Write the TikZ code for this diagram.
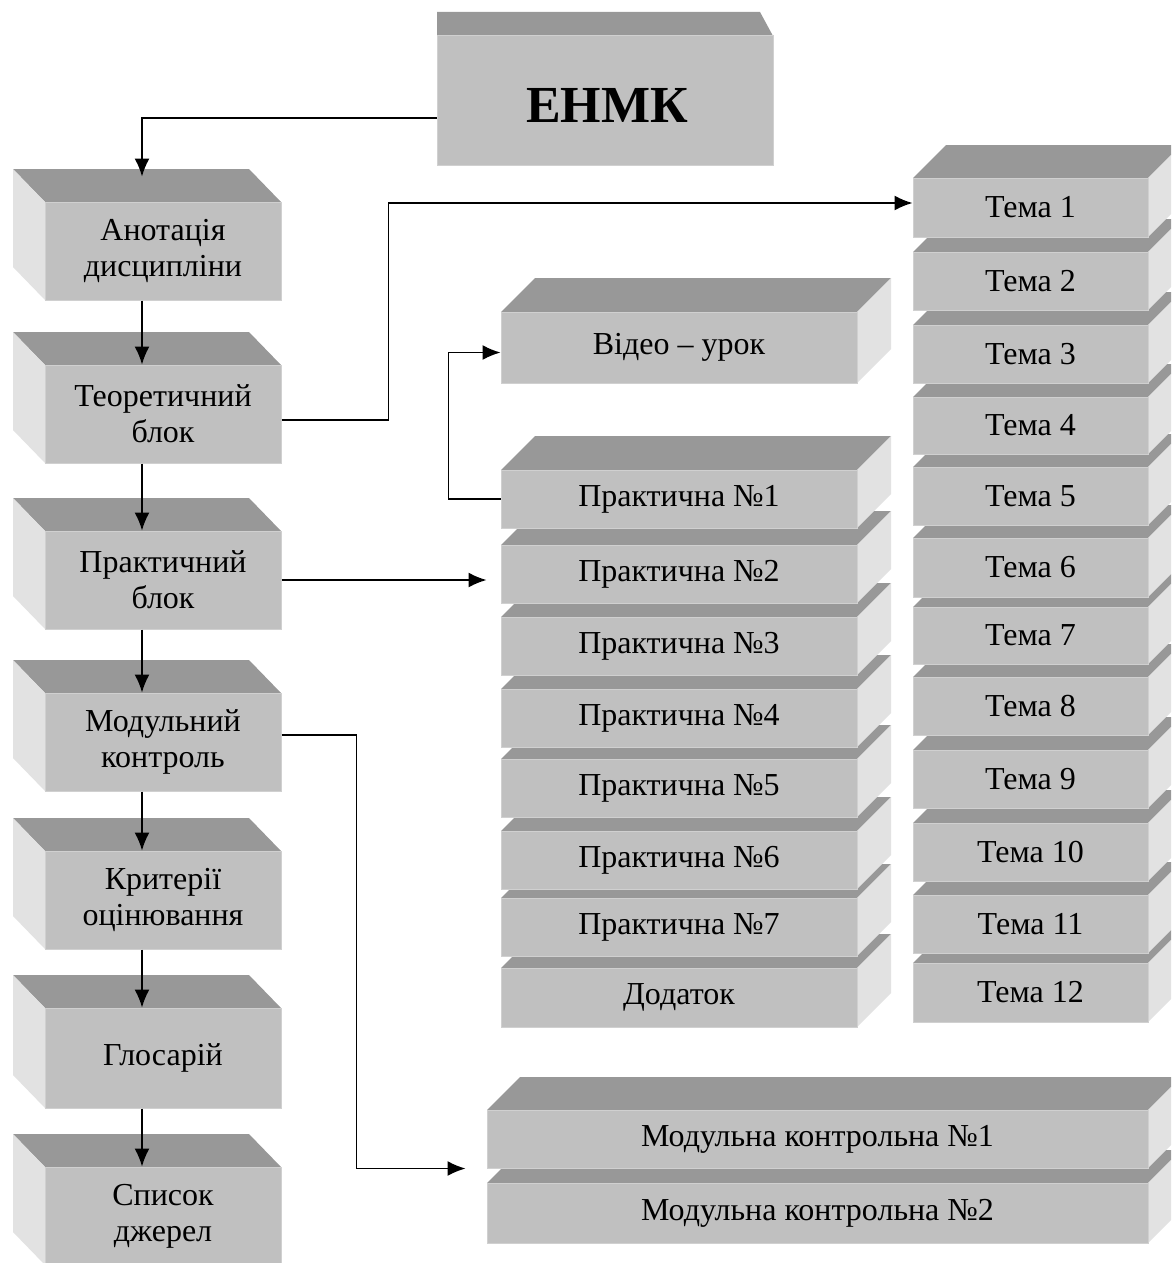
\documentclass[tikz,border=0pt]{standalone}
\usepackage{fontspec}
\setmainfont{Liberation Serif}
\usetikzlibrary{arrows.meta}
\definecolor{facefront}{RGB}{192,192,192}
\definecolor{facetop}{RGB}{152,152,152}
\definecolor{faceside}{RGB}{226,226,226}
\definecolor{faceedge}{RGB}{208,208,208}
\tikzset{
  frontface/.style={fill=facefront, draw=faceedge, line width=1pt, inner sep=0pt,
    align=center, text=black, font=\fontsize{32}{36}\selectfont},
  conn/.style={line width=1.6pt, -{Latex[length=18pt,width=15pt]}},
}
% box with depth to the upper left: name, x0, y0, x1, y1, text
\newcommand\boxLeft[6]{%
  \fill[facetop] (#2,#3) -- (#2-32,#3-33) -- (#4-32,#3-33) -- (#4,#3) -- cycle;
  \fill[faceside] (#2,#3) -- (#2-32,#3-33) -- (#2-32,#5-33) -- (#2,#5) -- cycle;
  \node[frontface, minimum width={#4-#2}, minimum height={#5-#3}] (#1)
    at ({(#2+#4)/2},{(#3+#5)/2}) {#6};
}
% box with depth to the upper right: name, x0, y0, x1, y1, depth, text
\newcommand\boxRight[7]{%
  \fill[facetop] (#2,#3) -- (#2+#6,#3-#6) -- (#4+#6,#3-#6) -- (#4,#3) -- cycle;
  \fill[faceside] (#4,#3) -- (#4+#6,#3-#6) -- (#4+#6,#5-#6) -- (#4,#5) -- cycle;
  \node[frontface, minimum width={#4-#2}, minimum height={#5-#3}] (#1)
    at ({(#2+#4)/2},{(#3+#5)/2}) {#7};
}
\begin{document}
\begin{tikzpicture}[x=1pt,y=-1pt]
\clip (0,0) rectangle (1171,1263);
\fill[white] (0,0) rectangle (1171,1263);

% ENMK
\fill[facetop] (437,36) -- (437,12) -- (760,12) -- (773,36) -- cycle;
\node[frontface, minimum width=336, minimum height=129] (enmk) at (605,100.5) {};
\node[font=\fontsize{52}{60}\selectfont\bfseries, inner sep=0pt] (enmktext) at (607,105) {ЕНМК};

% left column
\boxLeft{a1}{45}{202}{281}{300}{Анотація\\дисципліни}
\boxLeft{a2}{45}{365}{281}{463}{Теоретичний\\блок}
\boxLeft{a3}{45}{531}{281}{629}{Практичний\\блок}
\boxLeft{a4}{45}{693}{281}{791}{Модульний\\контроль}
\boxLeft{a5}{45}{851}{281}{949}{Критерії\\оцінювання}
\boxLeft{a6}{45}{1008}{281}{1108}{Глосарій}
\boxLeft{a7}{45}{1167}{281}{1265}{Список\\джерел}

% video
\boxRight{video}{501}{312}{857}{383}{34}{Відео – урок}

% practical stack (bottom first)
\boxRight{p8}{501}{968}{857}{1027}{34}{Додаток}
\boxRight{p7}{501}{898}{857}{956}{34}{Практична №7}
\boxRight{p6}{501}{831}{857}{889}{34}{Практична №6}
\boxRight{p5}{501}{759}{857}{817}{34}{Практична №5}
\boxRight{p4}{501}{689}{857}{747}{34}{Практична №4}
\boxRight{p3}{501}{617}{857}{675}{34}{Практична №3}
\boxRight{p2}{501}{545}{857}{603}{34}{Практична №2}
\boxRight{p1}{501}{470}{857}{528}{34}{Практична №1}

% topics stack (bottom first)
\boxRight{t12}{913}{963}{1148}{1022}{33}{Тема 12}
\boxRight{t11}{913}{895}{1148}{953}{33}{Тема 11}
\boxRight{t10}{913}{823}{1148}{881}{33}{Тема 10}
\boxRight{t9}{913}{750}{1148}{808}{33}{Тема 9}
\boxRight{t8}{913}{677}{1148}{735}{33}{Тема 8}
\boxRight{t7}{913}{607}{1148}{664}{33}{Тема 7}
\boxRight{t6}{913}{538}{1148}{597}{33}{Тема 6}
\boxRight{t5}{913}{467}{1148}{525}{33}{Тема 5}
\boxRight{t4}{913}{397}{1148}{454}{33}{Тема 4}
\boxRight{t3}{913}{325}{1148}{383}{33}{Тема 3}
\boxRight{t2}{913}{252}{1148}{310}{33}{Тема 2}
\boxRight{t1}{913}{178}{1148}{237}{33}{Тема 1}

% module tests
\boxRight{m2}{487}{1183}{1148}{1243}{33}{Модульна контрольна №2}
\boxRight{m1}{487}{1110}{1148}{1168}{33}{Модульна контрольна №1}

% connectors
\draw[conn] ([yshift=-17.5pt]enmk.west) -| ([xshift=-21pt,yshift=25pt]a1.north);
\draw[conn] ([xshift=-21pt]a1.south) -- ([xshift=-21pt]a2.north);
\draw[conn] ([xshift=-21pt]a2.south) -- ([xshift=-21pt]a3.north);
\draw[conn] ([xshift=-21pt]a3.south) -- ([xshift=-21pt]a4.north);
\draw[conn] ([xshift=-21pt]a4.south) -- ([xshift=-21pt]a5.north);
\draw[conn] ([xshift=-21pt]a5.south) -- ([xshift=-21pt]a6.north);
\draw[conn] ([xshift=-21pt]a6.south) -- ([xshift=-21pt]a7.north);

\draw[conn] ([yshift=-6pt]a2.east) -- ++(107,0) |- ([yshift=4.5pt]t1.west);
\draw[conn] (a3.east) -- ([xshift=-14pt]p2.west |- a3.east);
\draw[conn] (p1.west) -- ++(-52,0) |- ([yshift=-5pt]video.west);
\draw[conn] ([yshift=7pt]a4.east) -- ++(75,0) |- ([xshift=-21pt]m1.south west);
\end{tikzpicture}
\end{document}
